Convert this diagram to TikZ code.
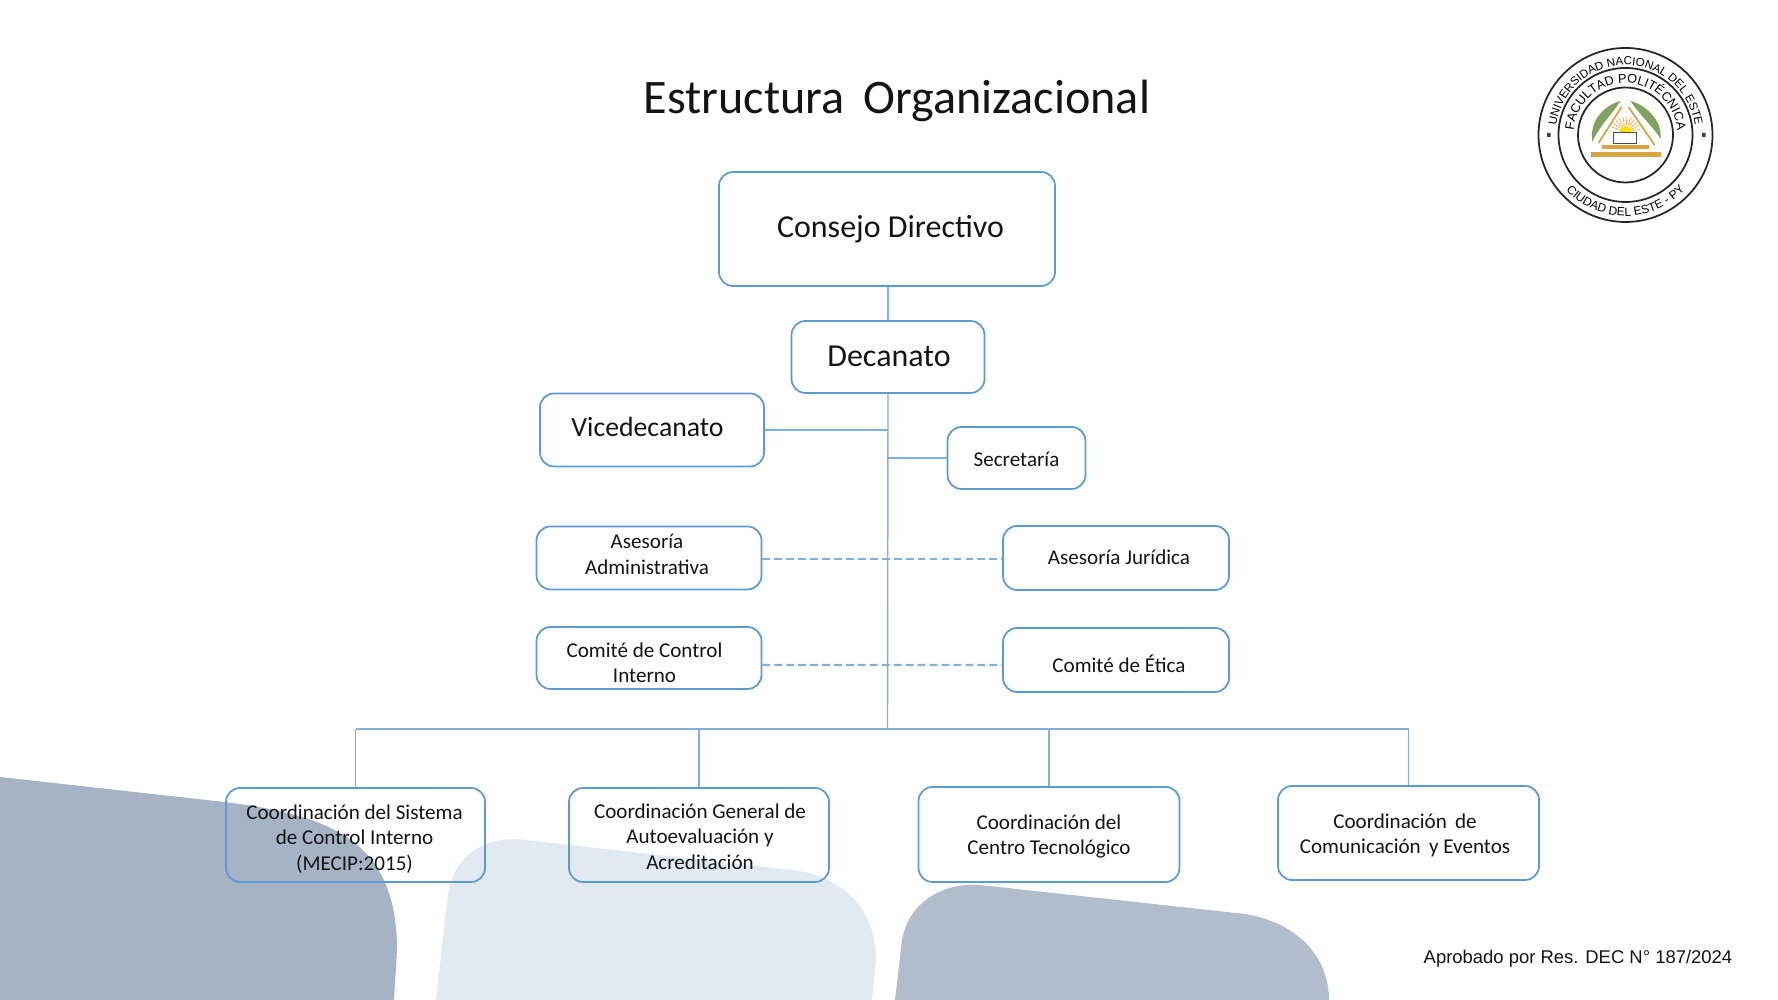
\documentclass[tikz,border=0pt]{standalone}
\usepackage{fontspec}
\setmainfont{Carlito}
\newfontfamily\logofont{Liberation Sans}
\usetikzlibrary{decorations.text,positioning}
\definecolor{boxline}{HTML}{5B9BD5}
\definecolor{linkline}{HTML}{7FB0DE}
\definecolor{shapedark}{HTML}{A5B3C4}
\definecolor{shapelight}{HTML}{E1E9F1}
\definecolor{shapemid}{HTML}{B1BDCC}
\definecolor{inktext}{HTML}{141414}
\definecolor{leafgreen}{HTML}{7FA35F}
\definecolor{wheatgold}{HTML}{D9A441}
\tikzset{
  orgbox/.style={draw=boxline,line width=0.5pt,rounded corners=0.14cm,inner sep=0pt},
  boxtext/.style={align=center,text=inktext,inner sep=0pt},
  bigtext/.style={boxtext,font=\fontsize{9.1pt}{11pt}\selectfont},
  midtext/.style={boxtext,font=\fontsize{7.9pt}{9.5pt}\selectfont},
  smalltext/.style={boxtext,font=\fontsize{6pt}{7.2pt}\selectfont},
  link/.style={draw=linkline,line width=0.4pt},
  dashlink/.style={link,line width=0.65pt,dash pattern=on 2.2pt off 1.2pt},
  logotext/.style={decorate,decoration={text along path,text align={align=center},text={#1}}}
}
\begin{document}
\begin{tikzpicture}
  \useasboundingbox (0,0) rectangle (17.78,10);
  % background shapes
  \fill[shapedark] (0,2.23) -- (2.24,1.98) .. controls (3.3,1.85) and (3.97,1.6) .. (3.97,0.5) -- (3.94,0) -- (0,0) -- cycle;
  \fill[shapelight] (4.36,0) -- (4.48,1.07) .. controls (4.55,1.45) and (4.85,1.65) .. (5.25,1.6) -- (8.0,1.29) .. controls (8.45,1.2) and (8.76,0.9) .. (8.76,0.4) -- (8.72,0) -- cycle;
  \fill[shapemid] (8.95,0) -- (9.02,0.6) .. controls (9.08,0.95) and (9.4,1.18) .. (9.8,1.15) -- (12.45,0.86) .. controls (12.95,0.78) and (13.29,0.45) .. (13.29,0) -- cycle;
  % title and footer
  \node[text=inktext,font=\fontsize{13.7pt}{16pt}\selectfont] (title) at (8.97,8.99) {Estructura\, Organizacional};
  \node[text=inktext,font=\logofont\fontsize{5.25pt}{6pt}\selectfont] (approved) at (15.78,0.41) {Aprobado por Res. DEC N° 187/2024};
  % boxes
  \node[orgbox,minimum width=3.36cm,minimum height=1.14cm,label={[name=consejotxt,bigtext,shift={(0.035,-0.005)}]center:{Consejo Directivo}}] (consejo) at (8.87,7.71) {};
  \node[orgbox,minimum width=1.93cm,minimum height=0.72cm,label={[name=decanatotxt,bigtext,shift={(0.01,0.01)}]center:{Decanato}}] (decanato) at (8.88,6.43) {};
  \node[orgbox,minimum width=2.24cm,minimum height=0.73cm,label={[name=vicetxt,midtext,shift={(-0.045,0.03)}]center:{Vicedecanato}}] (vice) at (6.52,5.70) {};
  \node[orgbox,minimum width=1.38cm,minimum height=0.62cm,label={[name=secretariatxt,smalltext,shift={(0,-0.01)}]center:{Secretaría}}] (secretaria) at (10.165,5.42) {};
  \node[orgbox,minimum width=2.25cm,minimum height=0.63cm,label={[name=asadmintxt,smalltext,shift={(-0.02,0.035)}]center:{Asesoría\\Administrativa}}] (asadmin) at (6.49,4.42) {};
  \node[orgbox,minimum width=2.26cm,minimum height=0.64cm,label={[name=asjurtxt,smalltext,shift={(0.03,0.01)}]center:{Asesoría Jurídica}}] (asjur) at (11.16,4.42) {};
  \node[orgbox,minimum width=2.25cm,minimum height=0.62cm,label={[name=ccitxt,smalltext,shift={(-0.045,-0.045)}]center:{Comité de Control\\Interno}}] (cci) at (6.49,3.42) {};
  \node[orgbox,minimum width=2.26cm,minimum height=0.64cm,label={[name=eticatxt,smalltext,shift={(0.03,-0.035)}]center:{Comité de Ética}}] (etica) at (11.16,3.40) {};
  \node[orgbox,minimum width=2.59cm,minimum height=0.94cm,label={[name=sistematxt,smalltext,shift={(-0.01,-0.04)}]center:{Coordinación del Sistema\\de Control Interno\\(MECIP:2015)}}] (sistema) at (3.555,1.65) {};
  \node[orgbox,minimum width=2.60cm,minimum height=0.94cm,label={[name=generaltxt,smalltext,shift={(0.01,-0.015)}]center:{Coordinación General de\\Autoevaluación y\\Acreditación}}] (general) at (6.99,1.65) {};
  \node[orgbox,minimum width=2.61cm,minimum height=0.95cm,label={[name=centrotxt,smalltext,shift={(0,-0.02)}]center:{Coordinación del\\Centro Tecnológico}}] (centro) at (10.49,1.655) {};
  \node[orgbox,minimum width=2.61cm,minimum height=0.94cm,label={[name=comunicatxt,smalltext,shift={(-0.035,-0.025)}]center:{Coordinación\, de\\Comunicación\, y Eventos}}] (comunica) at (14.085,1.67) {};
  % connectors
  \coordinate (trunk) at (8.875,2.71);
  \coordinate (busleft) at (sistema.north |- trunk);
  \coordinate (busright) at (comunica.north |- trunk);
  \draw[link] (consejo.south -| decanato.north) -- (decanato.north);
  \draw[link] (decanato.south) -- (trunk);
  \draw[link] (vice.east) -- (vice.east -| trunk);
  \draw[link] (secretaria.west) -- (secretaria.west -| trunk);
  \draw[dashlink] ([yshift=-0.01cm]asadmin.east) -- ([yshift=-0.01cm]asjur.west);
  \draw[dashlink] ([yshift=-0.07cm]cci.east) -- ([yshift=-0.05cm]etica.west);
  \draw[link] (busleft) -- (busright);
  \foreach \n in {sistema,general,centro,comunica}{\draw[link] (\n.north) -- (\n.north |- trunk);}
  % logo
  \begin{scope}[shift={(16.255,8.65)}]
    \draw[line width=0.5pt,black!85] (0,0) circle (0.87) (0,0) circle (0.67) (0,0) circle (0.475);
    \fill[black!75] (-0.785,-0.02) rectangle (-0.75,0.02) (0.765,-0.02) rectangle (0.80,0.02);
    \path[logotext={|\logofont\fontsize{3.3pt}{3pt}\selectfont|UNIVERSIDAD NACIONAL DEL ESTE}] (175:0.70) arc (175:5:0.70);
    \path[logotext={|\logofont\fontsize{3.6pt}{3pt}\selectfont|FACULTAD POLITÉCNICA}] (180:0.52) arc (180:0:0.52);
    \path[logotext={|\logofont\fontsize{3.4pt}{3pt}\selectfont|CIUDAD DEL ESTE - PY}] (210:0.81) arc (210:330:0.81);
    \fill[leafgreen] (-0.33,-0.07) .. controls (-0.37,0.15) and (-0.2,0.3) .. (-0.05,0.34) .. controls (-0.14,0.2) and (-0.27,0.08) .. (-0.33,-0.07) -- cycle;
    \fill[leafgreen] (0.35,-0.04) .. controls (0.37,0.15) and (0.2,0.3) .. (0.05,0.34) .. controls (0.14,0.2) and (0.28,0.08) .. (0.35,-0.04) -- cycle;
    \draw[wheatgold,line width=0.5pt] (-0.27,-0.08) -- (-0.04,0.28);
    \draw[wheatgold,line width=0.5pt] (0.03,0.28) -- (0.29,-0.1);
    \foreach \a in {10,25,...,170}{\draw[orange!70,line width=0.2pt] (\a:0.07) ++(0,0.03) -- ++(\a:0.08);}
    \fill[yellow!80!orange] (-0.06,0.03) arc (180:0:0.06) -- cycle;
    \draw[black!70,fill=white,line width=0.25pt] (-0.12,-0.08) rectangle (0.11,0.03);
    \fill[wheatgold] (-0.24,-0.145) rectangle (0.23,-0.105);
    \fill[wheatgold] (-0.35,-0.225) rectangle (0.35,-0.175);
  \end{scope}
\end{tikzpicture}
\end{document}
